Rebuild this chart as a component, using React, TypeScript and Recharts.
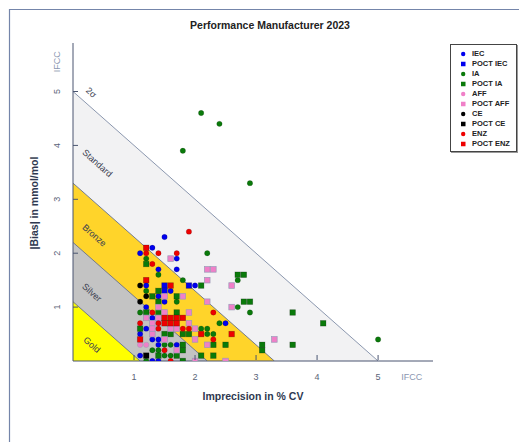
import React from "react";
import {
  ComposedChart,
  Area,
  Scatter,
  XAxis,
  YAxis,
  ReferenceDot,
  Legend,
} from "recharts";

// ---------- data ----------
type P = [number, number];

const IEC: P[] = [
  [1.1, 2.0], [1.3, 2.1], [1.5, 2.3], [1.7, 1.9], [1.4, 1.7], [1.7, 1.7], [1.2, 1.4], [2.0, 1.4],
  [1.6, 1.3], [1.4, 1.2], [1.5, 1.1], [1.2, 1.0], [1.3, 0.8], [2.5, 0.7], [1.2, 0.6], [1.1, 0.5],
  [1.3, 0.4], [1.4, 0.4], [1.4, 0.3], [1.7, 0.3], [1.1, 0.1], [1.3, 0.0], [1.4, 0.0],
];
const POCT_IEC: P[] = [[1.5, 1.4], [1.5, 1.3], [1.9, 1.4]];
const IA: P[] = [
  [2.1, 4.6], [2.4, 4.4], [1.8, 3.9], [2.9, 3.3], [2.2, 2.0], [1.2, 1.9], [1.4, 1.6], [1.8, 1.5],
  [2.7, 1.5], [1.2, 1.3], [1.7, 1.1], [2.7, 1.0], [1.1, 0.9], [2.9, 0.9], [2.4, 0.7], [2.1, 0.6],
  [2.2, 0.6], [2.2, 0.5], [2.3, 0.5], [1.5, 0.3], [1.6, 0.3], [1.3, 0.2], [1.4, 0.2], [1.5, 0.1],
  [1.6, 0.1], [1.2, 0.0], [5.0, 0.4],
];
const POCT_IA: P[] = [
  [1.2, 1.8], [2.1, 1.4], [1.4, 1.3], [2.7, 1.6], [2.8, 1.6], [1.3, 1.2], [1.7, 1.2], [1.4, 1.1],
  [2.8, 1.1], [2.9, 1.1], [1.2, 0.9], [1.4, 0.9], [1.7, 0.9], [3.6, 0.9], [4.1, 0.7], [1.1, 0.6],
  [1.5, 0.5], [1.6, 0.5], [1.8, 0.5], [1.9, 0.5], [1.8, 0.3], [2.3, 0.3], [2.5, 0.3], [3.1, 0.3],
  [3.6, 0.3], [1.8, 0.2], [3.1, 0.2], [1.4, 0.1], [1.7, 0.1], [2.1, 0.1], [2.3, 0.1], [1.8, 0.0],
];
const AFF: P[] = [[1.1, 0.3], [1.2, 0.3]];
const POCT_AFF: P[] = [
  [1.6, 1.9], [2.2, 1.7], [2.3, 1.7], [2.2, 1.5], [2.6, 1.4], [1.5, 1.2], [1.8, 1.2], [2.2, 1.1],
  [1.4, 1.0], [2.6, 1.0], [1.5, 0.9], [1.9, 0.9], [1.2, 0.8], [1.4, 0.8], [1.3, 0.7], [1.9, 0.7],
  [1.3, 0.6], [1.6, 0.6], [1.7, 0.6], [2.0, 0.6], [1.3, 0.5], [1.5, 0.4], [2.0, 0.4], [2.2, 0.3],
  [1.7, 0.2], [2.0, 0.0], [2.5, 0.0], [3.3, 0.4],
];
const CE: P[] = [[1.1, 1.4], [1.1, 1.1], [1.2, 1.2]];
const POCT_CE: P[] = [[1.2, 0.1]];
const ENZ: P[] = [
  [1.9, 2.4], [1.2, 2.0], [1.4, 2.0], [1.7, 2.0], [1.3, 1.8], [1.3, 0.9], [2.3, 0.9], [1.1, 0.7],
  [1.4, 0.7], [1.4, 0.6], [1.8, 0.6], [1.9, 0.6], [2.3, 0.4], [1.5, 0.2], [1.6, 0.0],
];
const POCT_ENZ: P[] = [
  [1.2, 2.1], [1.2, 1.5], [1.6, 1.4], [1.5, 0.8], [1.6, 0.8], [1.7, 0.8], [1.8, 0.8], [1.5, 0.7],
  [1.6, 0.7], [1.7, 0.7], [2.1, 0.5], [2.6, 0.5], [1.1, 0.4],
];

// performance band boundaries (intercepts on both axes)
const BAND_STANDARD = 5.0;
const BAND_BRONZE = 3.3;
const BAND_SILVER = 2.2;
const BAND_GOLD = 1.1;

const AXIS_TICKS = [1, 2, 3, 4, 5, 5.55];
const IFCC_TICK = 5.55;

const REGION_LABELS = [
  { text: "2σ", x: 0.3, y: 4.98 },
  { text: "Standard", x: 0.4, y: 3.67 },
  { text: "Bronze", x: 0.35, y: 2.33 },
  { text: "Silver", x: 0.31, y: 1.27 },
  { text: "Gold", x: 0.31, y: 0.3 },
];

// ---------- helpers ----------
const toXY = (arr: P[]) => arr.map(([x, y]) => ({ x, y }));
const band = (v: number) => [{ x: 0, y: v }, { x: v, y: 0 }];

const SERIES = [
  { name: "IEC", data: IEC, color: "#0000ee", shape: "circle" },
  { name: "POCT IEC", data: POCT_IEC, color: "#0000ee", shape: "square" },
  { name: "IA", data: IA, color: "#0a7a0a", shape: "circle" },
  { name: "POCT IA", data: POCT_IA, color: "#0a7a0a", shape: "square" },
  { name: "AFF", data: AFF, color: "#f080c8", shape: "circle" },
  { name: "POCT AFF", data: POCT_AFF, color: "#f080c8", shape: "square" },
  { name: "CE", data: CE, color: "#000000", shape: "circle" },
  { name: "POCT CE", data: POCT_CE, color: "#000000", shape: "square" },
  { name: "ENZ", data: ENZ, color: "#ee0000", shape: "circle" },
  { name: "POCT ENZ", data: POCT_ENZ, color: "#ee0000", shape: "square" },
];

const FONT = "'Liberation Sans', Arial, sans-serif";
const AXIS_COLOR = "#4a5570";
const TICK_COLOR = "#5a6478";
const IFCC_COLOR = "#8a96b0";
const EDGE_COLOR = "#66728c";
const FRAME_COLOR = "#7485aa";

const makeShape = (color: string, kind: string) => (props: any) => {
  const { cx, cy } = props;
  if (cx == null || cy == null) return <g />;
  const stroke = color === "#f080c8" ? "#9a9ab8" : "rgba(0,0,0,0.3)";
  if (kind === "square") {
    return (
      <rect x={cx - 2.8} y={cy - 2.8} width={5.6} height={5.6} fill={color} stroke={stroke} strokeWidth={0.7} />
    );
  }
  return <circle cx={cx} cy={cy} r={2.7} fill={color} stroke={stroke} strokeWidth={0.5} />;
};

// bottom axis: the tick's y is the axis line position (+1 for the axis height)
const XTick = (props: any) => {
  const { x, y, payload } = props;
  const v = payload.value;
  const ifcc = v === IFCC_TICK;
  const ay = y - 1;
  return (
    <g>
      {!ifcc && <line x1={x} x2={x} y1={ay} y2={ay - 5} stroke={AXIS_COLOR} strokeWidth={1} />}
      <text x={x} y={ay + 20} textAnchor="middle" fontSize={9} fontFamily={FONT} fill={ifcc ? IFCC_COLOR : TICK_COLOR}>
        {ifcc ? "IFCC" : String(v)}
      </text>
    </g>
  );
};

// left axis: the tick's x is the axis line position
const YTick = (props: any) => {
  const { x, y, payload } = props;
  const v = payload.value;
  const ifcc = v === IFCC_TICK;
  return (
    <g>
      {!ifcc && <line x1={x} x2={x + 5} y1={y} y2={y} stroke={AXIS_COLOR} strokeWidth={1} />}
      <text
        transform={`translate(${x - 12.7},${y}) rotate(-90)`}
        textAnchor="middle"
        fontSize={9}
        fontFamily={FONT}
        fill={ifcc ? IFCC_COLOR : TICK_COLOR}
      >
        {ifcc ? "IFCC" : String(v)}
      </text>
    </g>
  );
};

const regionLabelShape = (text: string) => (props: any) => {
  const { cx, cy } = props;
  return (
    <text
      transform={`translate(${cx},${cy}) rotate(41.5)`}
      textAnchor="middle"
      dominantBaseline="central"
      fontSize={9}
      fontFamily={FONT}
      fill="#3a4050"
    >
      {text}
    </text>
  );
};

const LegendBox = () => (
  <div
    style={{
      width: 67,
      height: 108,
      border: "1px solid #444",
      boxShadow: "1px 1px 0 #999",
      background: "#fff",
      boxSizing: "border-box",
      paddingTop: 3.8,
      fontFamily: "'Liberation Sans Narrow', 'Liberation Sans', Arial, sans-serif",
      fontWeight: "bold",
      fontSize: 7.5,
      color: "#222",
    }}
  >
    {SERIES.map((s) => (
      <div key={s.name} style={{ height: 10, display: "flex", alignItems: "center" }}>
        <svg width={21} height={10} style={{ flex: "none" }}>
          {s.shape === "square" ? (
            <rect x={10} y={2.75} width={4.5} height={4.5} fill={s.color} />
          ) : (
            <circle cx={12.2} cy={5} r={2.2} fill={s.color} />
          )}
        </svg>
        <span style={{ whiteSpace: "nowrap", lineHeight: "10px" }}>{s.name}</span>
      </div>
    ))}
  </div>
);

const bandArea = (key: string, v: number, fill: string, stroke: string) => (
  <Area
    key={key}
    data={band(v)}
    dataKey="y"
    type="linear"
    fill={fill}
    fillOpacity={1}
    stroke={stroke}
    strokeWidth={0.9}
    dot={false}
    activeDot={false}
    legendType="none"
    isAnimationActive={false}
  />
);

export default function App() {
  return (
    <div style={{ position: "relative", width: 527, height: 442, marginLeft: -8, marginTop: -8, background: "#fff" }}>
      <div
        style={{
          position: "absolute",
          left: 0,
          width: 540,
          top: 19,
          textAlign: "center",
          fontFamily: FONT,
          fontWeight: "bold",
          fontSize: 10.5,
          color: "#222",
          lineHeight: "12px",
        }}
      >
        Performance Manufacturer 2023
      </div>
      <div style={{ position: "absolute", left: 0, top: 0 }}>
        <ComposedChart width={527} height={442} margin={{ top: 43, right: 94, bottom: 80, left: 72 }}>
          <XAxis
            dataKey="x"
            type="number"
            domain={[0, 5.9]}
            ticks={AXIS_TICKS}
            height={1}
            tickSize={0}
            tickMargin={0}
            tick={<XTick />}
            tickLine={false}
            axisLine={{ stroke: AXIS_COLOR, strokeWidth: 1 }}
            allowDataOverflow
          />
          <YAxis
            dataKey="y"
            type="number"
            domain={[0, 5.9]}
            ticks={AXIS_TICKS}
            width={1}
            tickSize={0}
            tickMargin={0}
            tick={<YTick />}
            tickLine={false}
            axisLine={{ stroke: AXIS_COLOR, strokeWidth: 1 }}
            allowDataOverflow
          />
          {bandArea("standard", BAND_STANDARD, "#f2f2f3", "#7f8ca6")}
          {bandArea("bronze", BAND_BRONZE, "#ffd42a", EDGE_COLOR)}
          {bandArea("silver", BAND_SILVER, "#c3c3c3", EDGE_COLOR)}
          {bandArea("gold", BAND_GOLD, "#ffff00", EDGE_COLOR)}
          {REGION_LABELS.map((l) => (
            <ReferenceDot key={l.text} x={l.x} y={l.y} r={0} shape={regionLabelShape(l.text)} />
          ))}
          {SERIES.map((s) => (
            <Scatter
              key={s.name}
              name={s.name}
              data={toXY(s.data)}
              dataKey="y"
              fill={s.color}
              shape={makeShape(s.color, s.shape)}
              isAnimationActive={false}
            />
          ))}
          <Legend
            layout="vertical"
            align="center"
            verticalAlign="middle"
            wrapperStyle={{ position: "absolute", left: 450, top: 44, width: 67, height: 108 }}
            content={() => <LegendBox />}
          />
        </ComposedChart>
      </div>
      <svg width={527} height={442} style={{ position: "absolute", left: 0, top: 0, pointerEvents: "none", zIndex: 5 }}>
        <path d="M9.5,442 L9.5,9.5 L527,9.5" fill="none" stroke={FRAME_COLOR} strokeWidth={1.2} />
        <text x={253} y={400} textAnchor="middle" fontFamily={FONT} fontWeight="bold" fontSize={10.5} fill="#2e3850">
          Imprecision in % CV
        </text>
        <text
          transform="translate(37.5,203) rotate(-90)"
          textAnchor="middle"
          fontFamily={FONT}
          fontWeight="bold"
          fontSize={10.5}
          fill="#2e3850"
        >
          |Bias| in mmol/mol
        </text>
      </svg>
    </div>
  );
}
